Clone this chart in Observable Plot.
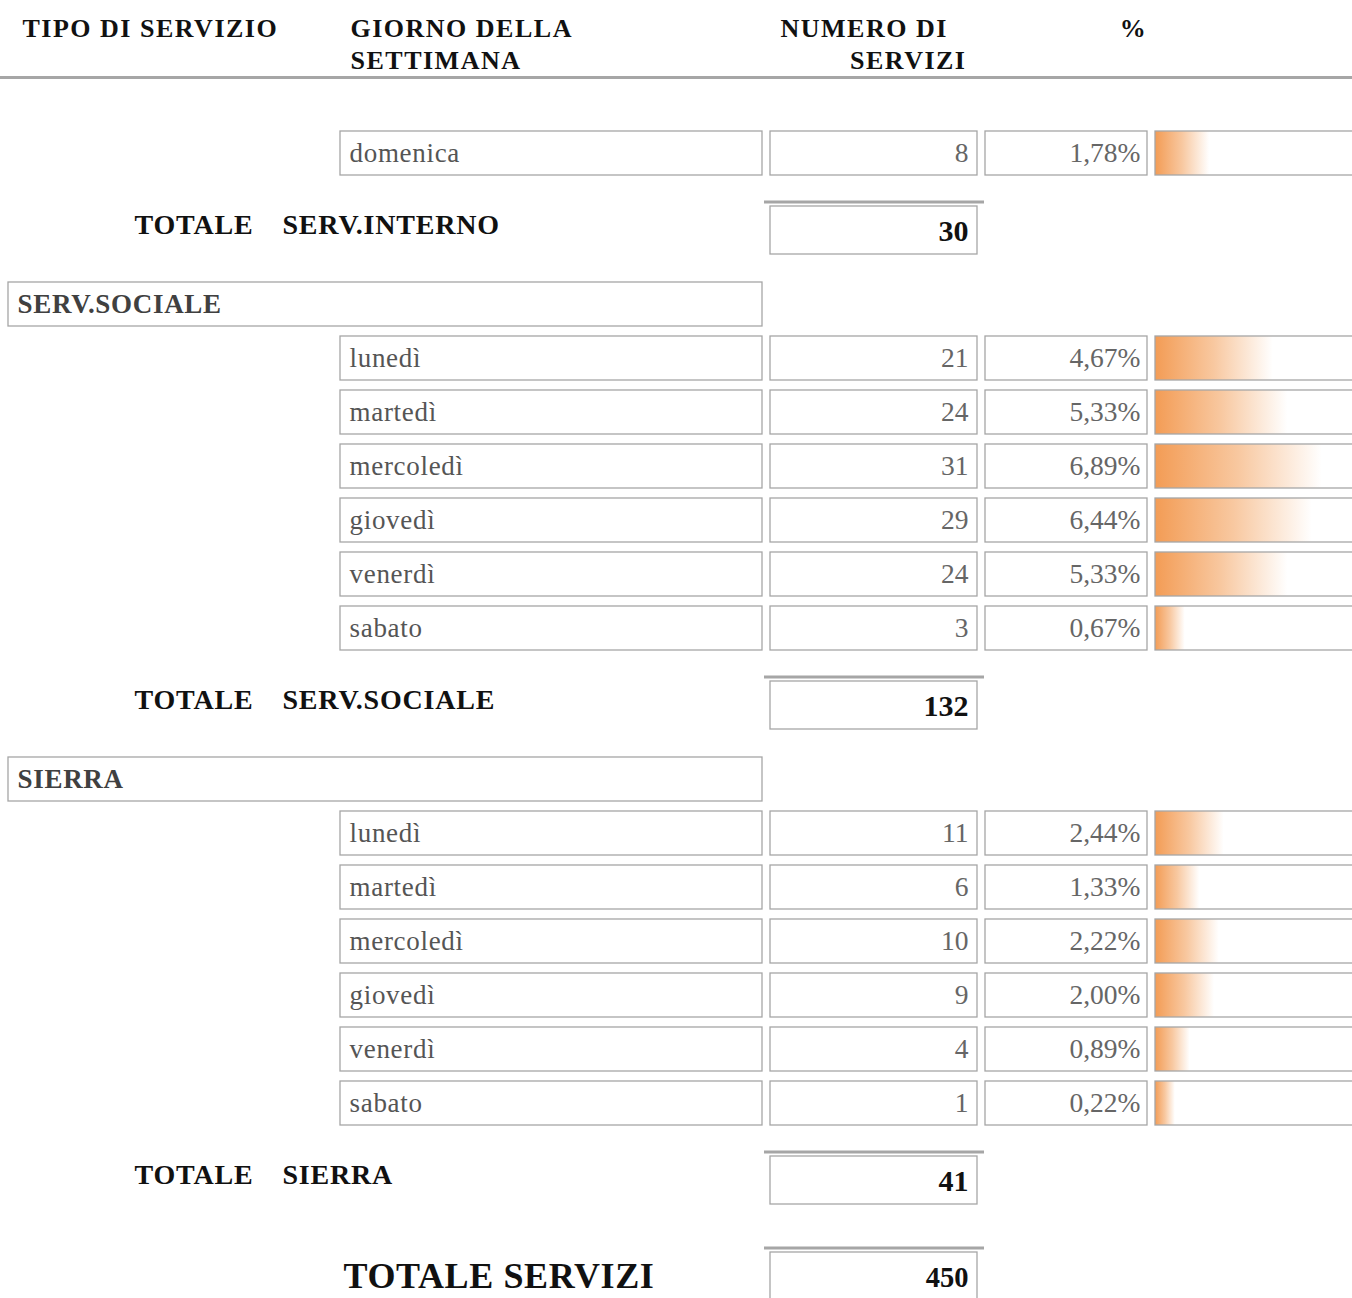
<!DOCTYPE html>
<html>
<head>
<meta charset="utf-8">
<script src="https://cdn.jsdelivr.net/npm/d3@7"></script>
<script src="https://cdn.jsdelivr.net/npm/@observablehq/plot@0.6"></script>
<style>
  html, body { margin: 0; padding: 0; background: #fff; overflow: hidden; }
  #chart svg { display: block; max-width: none !important; }
  g[font-weight="bold"][font-size="26"] text { letter-spacing: 1.5px; }
  g[font-weight="bold"][font-size="28"] text { letter-spacing: 0.8px; }
  g[font-size="36"] text { letter-spacing: 0.6px; }
  g[font-size="27"] text { letter-spacing: 0.7px; }
</style>
</head>
<body>
<div id="chart"></div>
<script>
// ---------------- DATA ----------------
const headers = ["TIPO DI SERVIZIO", "GIORNO DELLA\nSETTIMANA", "NUMERO DI\nSERVIZI", "%"];
const groups = ["SERV.INTERNO", "SERV.SOCIALE", "SIERRA"];
const totalWord = "TOTALE";
const grandLabel = "TOTALE SERVIZI";

const internoDays = ["domenica"];
const internoCounts = [8];
const internoPcts = [1.78];

const socialeDays = ["lunedì", "martedì", "mercoledì", "giovedì", "venerdì", "sabato"];
const socialeCounts = [21, 24, 31, 29, 24, 3];
const socialePcts = [4.67, 5.33, 6.89, 6.44, 5.33, 0.67];

const sierraDays = ["lunedì", "martedì", "mercoledì", "giovedì", "venerdì", "sabato"];
const sierraCounts = [11, 6, 10, 9, 4, 1];
const sierraPcts = [2.44, 1.33, 2.22, 2.00, 0.89, 0.22];

const groupTotals = [30, 132, 41];
const grandTotal = 450;

// ---------------- LAYOUT ----------------
const W = 1352, H = 1298;
const FIRST_ROW = 153, STEP = 54, TOTAL_GAP = 77, GROUP_GAP = 74, GRAND_GAP = 96;
const CELL_HALF = 22, TOTAL_HALF = 24;
const GRID = "#a6a6a6";
const serif = "Liberation Serif, Times New Roman, serif";

const sections = [
  {name: groups[0], days: internoDays, counts: internoCounts, pcts: internoPcts, total: groupTotals[0], showHeader: false},
  {name: groups[1], days: socialeDays, counts: socialeCounts, pcts: socialePcts, total: groupTotals[1], showHeader: true},
  {name: groups[2], days: sierraDays, counts: sierraCounts, pcts: sierraPcts, total: groupTotals[2], showHeader: true}
];

const detailRows = [], groupRows = [], totalRows = [];
let yc = FIRST_ROW;
sections.forEach((s) => {
  if (s.showHeader) { groupRows.push({name: s.name, y: yc}); yc += STEP; }
  s.days.forEach((day, j) => {
    detailRows.push({day, count: s.counts[j], pct: s.pcts[j], y: yc});
    yc += STEP;
  });
  yc += TOTAL_GAP - STEP;
  totalRows.push({name: s.name, total: s.total, y: yc});
  yc += GROUP_GAP;
});
const grandRows = [{label: grandLabel, total: grandTotal, y: totalRows[totalRows.length - 1].y + GRAND_GAP}];

const itLocale = d3.formatLocale({decimal: ",", thousands: ".", grouping: [3], currency: ["", " €"]});
const fmtPct = (v) => itLocale.format(".2f")(v) + "%";

const headerTop = 14;
const headerLine = 32;
const headerRuleY = 77;

const [h0, h1, h2, h3] = headers;
const [h2a, h2b] = h2.split("\n");

const txt = (data, opts) => Plot.text(data, {fontFamily: serif, frameAnchor: "left", lineAnchor: "middle", ...opts});
const box = (data, half, left, right, extra = {}) => Plot.rect(data, {
  y1: (d) => d.y - half, y2: (d) => d.y + half,
  insetLeft: left, insetRight: W - right,
  fill: "none", stroke: GRID, strokeWidth: 1.3, ...extra
});

const headerText = (label, dx, anchor, top = headerTop) => Plot.text([label], {
  text: (d) => d, y: () => top, frameAnchor: "left", dx, textAnchor: anchor,
  lineAnchor: "top", lineHeight: headerLine / 26, fontFamily: serif, fontSize: 26, fontWeight: "bold", fill: "#111"
});

const chart = Plot.plot({
  width: W, height: H,
  marginTop: 0, marginRight: 0, marginBottom: 0, marginLeft: 0,
  x: {domain: [0, 10], range: [1170, 1390], axis: null},
  y: {domain: [0, H], range: [0, H], axis: null},
  style: {background: "#fff"},
  marks: [
    // header
    headerText(h0, 22, "start"),
    headerText(h1, 350, "start"),
    headerText(h2a, 780, "start"),
    headerText(h2b, 966, "end", headerTop + headerLine),
    headerText(h3, 1133, "middle"),
    Plot.ruleY([headerRuleY], {stroke: GRID, strokeWidth: 3}),

    // group header boxes
    box(groupRows, CELL_HALF, 8, 762),
    txt(groupRows, {y: "y", text: "name", dx: 17, fontSize: 27, fontWeight: "bold", fill: "#404040"}),

    // detail rows
    Plot.rect(detailRows, {x1: () => 0, x2: "pct", y1: (d) => d.y - CELL_HALF, y2: (d) => d.y + CELL_HALF,
      insetLeft: -15, fill: "url(#barGrad)"}),
    box(detailRows, CELL_HALF, 340, 762),
    box(detailRows, CELL_HALF, 770, 977),
    box(detailRows, CELL_HALF, 985, 1147),
    box(detailRows, CELL_HALF, 1155, W + 6),
    txt(detailRows, {y: "y", text: "day", dx: 349, fontSize: 27, fill: "#555"}),
    txt(detailRows, {y: "y", text: (d) => String(d.count), dx: 968, textAnchor: "end", fontSize: 27.5, fill: "#666"}),
    txt(detailRows, {y: "y", text: (d) => fmtPct(d.pct), dx: 1140, textAnchor: "end", fontSize: 27.5, fill: "#666"}),

    // group totals
    Plot.ruleY(totalRows, {y: (d) => d.y - TOTAL_HALF - 4.5, insetLeft: 764, insetRight: W - 984, stroke: GRID, strokeWidth: 3}),
    box(totalRows, TOTAL_HALF, 770, 977),
    txt(totalRows, {y: (d) => d.y - 5, text: () => totalWord, dx: 134, fontSize: 28, fontWeight: "bold", fill: "#111"}),
    txt(totalRows, {y: (d) => d.y - 5, text: "name", dx: 282, fontSize: 28, fontWeight: "bold", fill: "#111"}),
    txt(totalRows, {y: (d) => d.y + 1, text: (d) => String(d.total), dx: 968, textAnchor: "end", fontSize: 30, fontWeight: "bold", fill: "#111"}),

    // grand total
    Plot.ruleY(grandRows, {y: (d) => d.y - TOTAL_HALF - 4.5, insetLeft: 764, insetRight: W - 984, stroke: GRID, strokeWidth: 3}),
    box(grandRows, TOTAL_HALF, 770, 977),
    txt(grandRows, {y: (d) => d.y, text: "label", dx: 343, fontSize: 36, fontWeight: "bold", fill: "#111"}),
    txt(grandRows, {y: (d) => d.y + 1, text: (d) => String(d.total), dx: 968, textAnchor: "end", fontSize: 28.5, fontWeight: "bold", fill: "#111"})
  ]
});

// gradient definition for the bars
const defs = d3.select(chart).insert("defs", ":first-child");
const grad = defs.append("linearGradient").attr("id", "barGrad").attr("x1", "0").attr("x2", "1").attr("y1", "0").attr("y2", "0");
grad.append("stop").attr("offset", "0").attr("stop-color", "#f39c55");
grad.append("stop").attr("offset", "0.5").attr("stop-color", "#f8c8a0");
grad.append("stop").attr("offset", "1").attr("stop-color", "#ffffff");

document.getElementById("chart").appendChild(chart);
</script>
</body>
</html>
